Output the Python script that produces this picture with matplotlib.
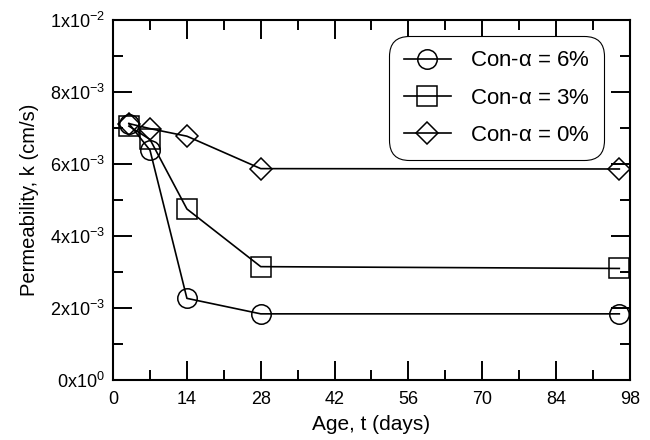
import matplotlib
matplotlib.use('Agg')
import matplotlib.pyplot as plt
from matplotlib.ticker import MultipleLocator, FixedLocator

plt.rcParams['font.family'] = ['Liberation Sans', 'DejaVu Sans']
plt.rcParams['mathtext.fontset'] = 'custom'
plt.rcParams['mathtext.rm'] = 'Liberation Sans'
plt.rcParams['mathtext.it'] = 'Liberation Sans'

# Age in days
days = [3, 7, 14, 28, 96]

# Permeability values (cm/s)
k_6 = [7.12e-3, 6.38e-3, 2.27e-3, 1.84e-3, 1.84e-3]
k_3 = [7.05e-3, 6.68e-3, 4.75e-3, 3.15e-3, 3.10e-3]
k_0 = [7.12e-3, 6.98e-3, 6.77e-3, 5.87e-3, 5.86e-3]

labels = [r'Con-$\alpha$ = 6%', r'Con-$\alpha$ = 3%', r'Con-$\alpha$ = 0%']
y_ticklabels = [r'0x10$^{0}$', r'2x10$^{-3}$', r'4x10$^{-3}$', r'6x10$^{-3}$',
                r'8x10$^{-3}$', r'1x10$^{-2}$']

fig, ax = plt.subplots(figsize=(6.5, 4.4), dpi=100)
fig.subplots_adjust(left=0.174, right=0.969, top=0.955, bottom=0.136)

style = dict(color='black', linewidth=1.2, markerfacecolor='none',
             markeredgecolor='black', markeredgewidth=1.1)
ax.plot(days, k_6, marker='o', markersize=14, label=labels[0], **style)
ax.plot(days, k_3, marker='s', markersize=14, label=labels[1], **style)
ax.plot(days, k_0, marker='D', markersize=11, label=labels[2], **style)

ax.set_xlim(0, 98)
ax.set_ylim(0, 0.01)
ax.xaxis.set_major_locator(MultipleLocator(14))
ax.xaxis.set_minor_locator(MultipleLocator(7))
ax.yaxis.set_major_locator(FixedLocator([0, 0.002, 0.004, 0.006, 0.008, 0.01]))
ax.yaxis.set_minor_locator(MultipleLocator(0.001))
ax.set_yticklabels(y_ticklabels)

ax.tick_params(which='both', direction='in', top=True, right=True,
               labelsize=13, width=1.4)
ax.tick_params(which='major', length=14)
ax.tick_params(axis='x', which='major', pad=8)
ax.tick_params(axis='y', which='major', pad=6)
ax.tick_params(which='minor', length=7.5)
for spine in ax.spines.values():
    spine.set_linewidth(1.5)

ax.set_xlabel('Age, t (days)', fontsize=15, labelpad=5)
ax.set_ylabel('Permeability, k (cm/s)', fontsize=14.5, labelpad=8)

leg = ax.legend(loc='upper right', bbox_to_anchor=(0.950, 0.956), fontsize=16,
                frameon=True, fancybox=True, edgecolor='black', framealpha=1,
                borderaxespad=0, handlelength=2.1, handletextpad=0.85,
                borderpad=0.66, labelspacing=0.73)
frame = leg.get_frame()
frame.set_linewidth(0.8)
frame.set_boxstyle('round', pad=0, rounding_size=0.9)

fig.savefig('out.png', dpi=100)
